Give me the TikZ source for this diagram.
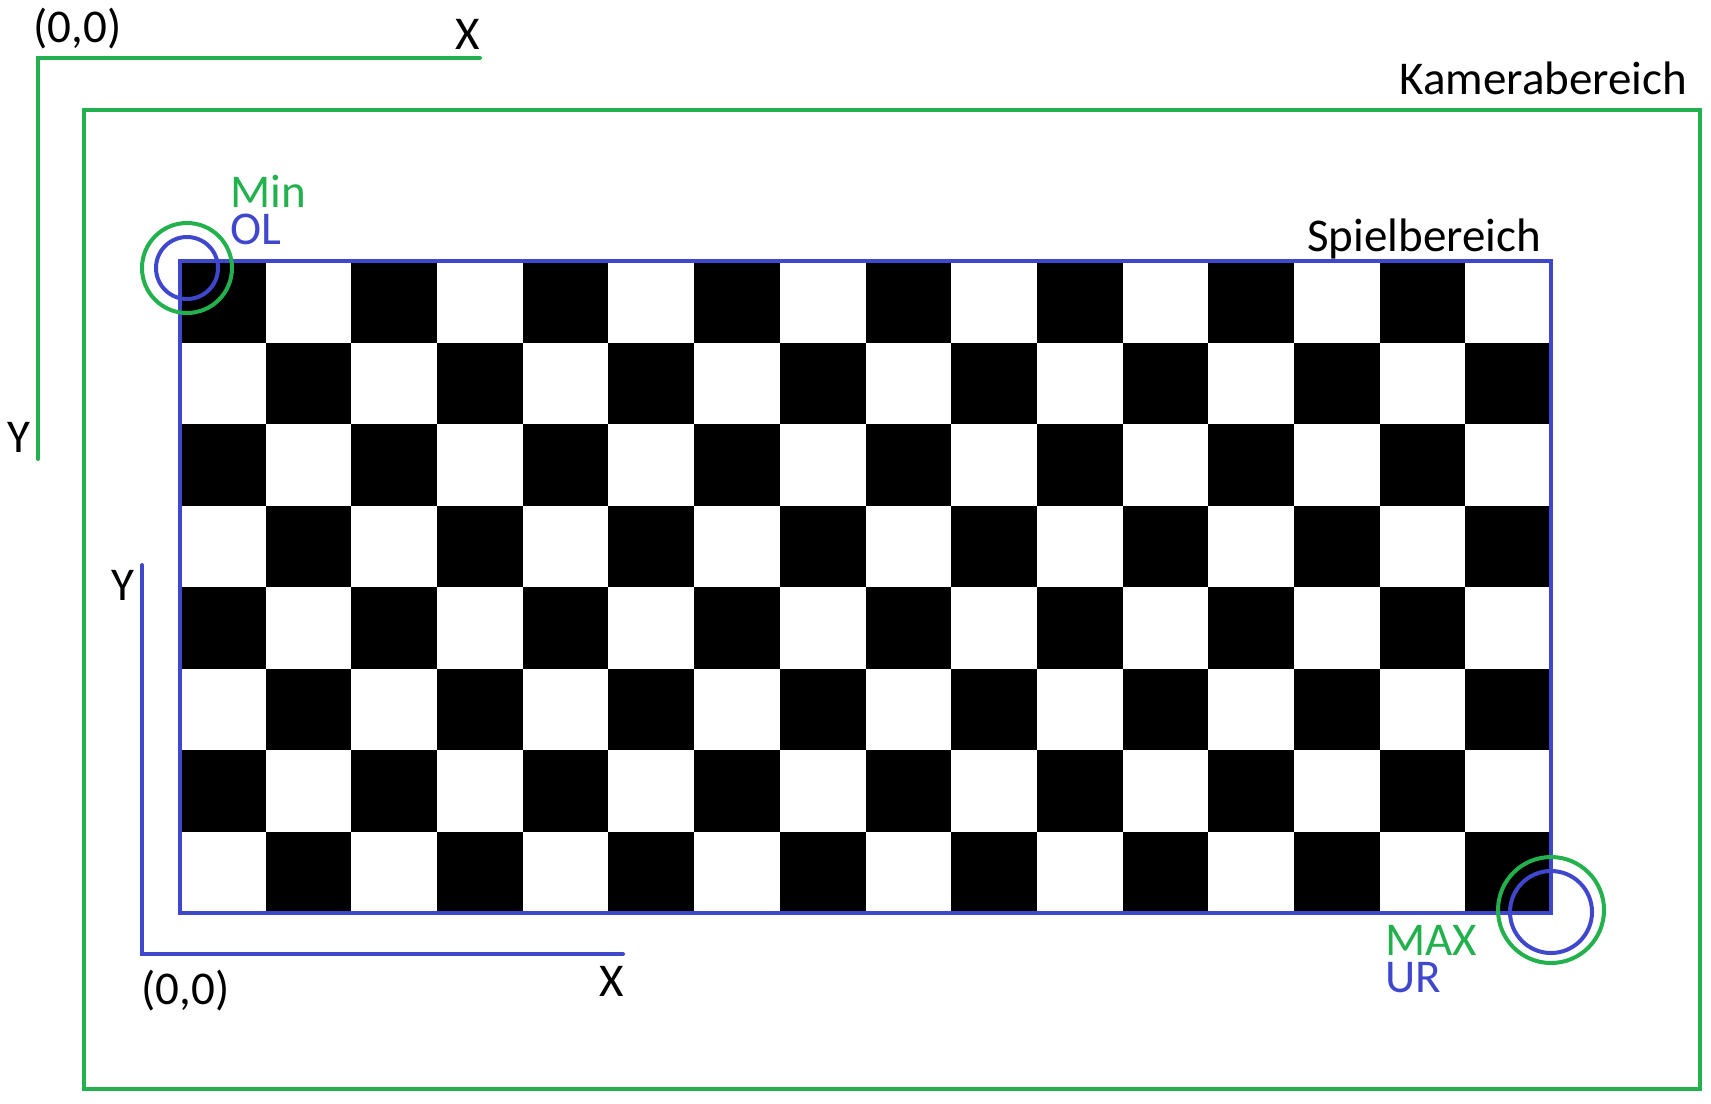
\documentclass[tikz,border=0pt]{standalone}
\usepackage{fontspec}
\setmainfont{Carlito}
\definecolor{paintgreen}{RGB}{34,177,76}
\definecolor{paintblue}{RGB}{63,72,204}

\begin{document}
\begin{tikzpicture}[x=0.5pt,y=-0.5pt,
  lbl/.style={anchor=base west,inner sep=0pt,font=\fontsize{23.5pt}{28pt}\selectfont},
  ecke/.style={anchor=base west,inner sep=0pt,font=\fontsize{23.5pt}{18.75pt}\selectfont},
  cam/.style={paintgreen,line width=2pt},
  feld/.style={paintblue,line width=2pt}]
\useasboundingbox (0,0) rectangle (1711,1103);
% Kamerabereich mit Achsen
\coordinate (kx) at (480,58);
\coordinate (ko) at (38,58);
\coordinate (ky) at (38,459);
\draw[cam,line cap=round] (ky) -- (ko) -- (kx);
\draw[cam] (84,110) rectangle (1700,1089);
\node[lbl] (k00) at (33,42) {(0,0)};
\node[lbl] (kxl) at (455,49) {X};
\node[lbl] (kyl) at (7,452) {Y};
\node[lbl] (kam) at (1399,94) {Kamerabereich};
% Spielbereich
\foreach \c in {0,...,15} {
  \foreach \r in {0,...,7} {
    \pgfmathtruncatemacro\odd{mod(\c+\r,2)}
    \ifnum\odd=0
      \fill (180+\c*85.6875,261+\r*81.5) rectangle ++(85.6875,81.5);
    \fi
  }
}
\coordinate (ol) at (180,261);
\coordinate (ur) at (1551,913);
\draw[feld] (ol) rectangle (ur);
\node[lbl] (spiel) at (1307,251) {Spielbereich};
\coordinate (sx) at (623,954);
\coordinate (so) at (142,954);
\coordinate (sy) at (142,565);
\draw[feld,line cap=round] (sy) -- (so) -- (sx);
\node[lbl] (s00) at (141,1004) {(0,0)};
\node[lbl] (sxl) at (599,996) {X};
\node[lbl] (syl) at (111,600) {Y};
% Ecken
\draw[cam] (187,268) circle[radius=22.5pt];
\draw[feld] (187,268) circle[radius=15.5pt];
\draw[cam] (1551,910) circle[radius=26.5pt];
\draw[feld] (1551,912) circle[radius=20.5pt];
\node[ecke] (minol) at (230,207)
  {\vtop{\hbox{\color{paintgreen}Min}\hbox{\color{paintblue}OL}}};
\node[ecke] (maxur) at (1385,955)
  {\vtop{\hbox{\color{paintgreen}MAX}\hbox{\color{paintblue}UR}}};
\end{tikzpicture}
\end{document}
